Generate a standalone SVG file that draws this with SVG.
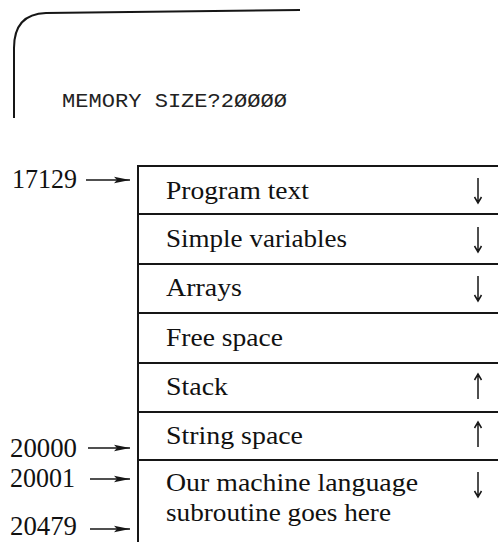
<svg xmlns="http://www.w3.org/2000/svg" width="498" height="542" viewBox="0 0 498 542">
<style>
.ln{stroke:#161616;stroke-width:2;fill:none}
.thin{stroke:#161616;stroke-width:1.5;fill:none}
.lbl{font-family:"Liberation Serif","Times New Roman",serif;font-size:26px;fill:#111}
.num{font-family:"Liberation Serif","Times New Roman",serif;font-size:26.5px;fill:#111}
.mono{font-family:"Liberation Mono","Courier New",monospace;font-size:20px;fill:#222}
</style>
<defs>
<marker id="ah" viewBox="0 0 16 8" refX="16" refY="4" markerWidth="16" markerHeight="8" markerUnits="userSpaceOnUse" orient="auto">
<path d="M0,0.8 L16,4 L0,7.2 L3,4 Z" fill="#161616"/>
</marker>
<path id="dn" d="M0,-12 L0,11 M-3.5,7 L0,13 L3.5,7" />
</defs>
<g id="screen">
<path class="ln" d="M14,118 L14,48 Q14,14 46,13 L300,10"/>
<text class="mono" x="62" y="107" textLength="225" lengthAdjust="spacingAndGlyphs">MEMORY SIZE?2ØØØØ</text>
</g>
<g id="memory-map">
<path class="ln" d="M138,542 L138,166 L498,166"/>
<line class="ln" x1="138" y1="214" x2="498" y2="214"/>
<line class="ln" x1="138" y1="264" x2="498" y2="264"/>
<line class="ln" x1="138" y1="313" x2="498" y2="313"/>
<line class="ln" x1="138" y1="363" x2="498" y2="363"/>
<line class="ln" x1="138" y1="412" x2="498" y2="412"/>
<line class="ln" x1="138" y1="460" x2="498" y2="460"/>
</g>
<g id="program-text">
<text class="lbl" x="166" y="199" textLength="143" lengthAdjust="spacingAndGlyphs">Program text</text>
<use href="#dn" class="thin" transform="translate(478,190)"/>
</g>
<g id="simple-variables">
<text class="lbl" x="166" y="247" textLength="181" lengthAdjust="spacingAndGlyphs">Simple variables</text>
<use href="#dn" class="thin" transform="translate(478,239)"/>
</g>
<g id="arrays">
<text class="lbl" x="166" y="296" textLength="76" lengthAdjust="spacingAndGlyphs">Arrays</text>
<use href="#dn" class="thin" transform="translate(478,288)"/>
</g>
<g id="free-space">
<text class="lbl" x="166" y="346" textLength="117" lengthAdjust="spacingAndGlyphs">Free space</text>
</g>
<g id="stack">
<text class="lbl" x="166" y="395" textLength="62" lengthAdjust="spacingAndGlyphs">Stack</text>
<use href="#dn" class="thin" transform="translate(478,387) rotate(180)"/>
</g>
<g id="string-space">
<text class="lbl" x="166" y="444" textLength="137" lengthAdjust="spacingAndGlyphs">String space</text>
<use href="#dn" class="thin" transform="translate(478,435) rotate(180)"/>
</g>
<g id="ml-subroutine">
<text class="lbl" x="166" y="491" textLength="252" lengthAdjust="spacingAndGlyphs">Our machine language</text>
<text class="lbl" x="166" y="521" textLength="225" lengthAdjust="spacingAndGlyphs">subroutine goes here</text>
<use href="#dn" class="thin" transform="translate(478,484)"/>
</g>
<g id="addresses">
<text class="num" x="12" y="188" textLength="65" lengthAdjust="spacingAndGlyphs">17129</text>
<text class="num" x="10" y="457" textLength="67" lengthAdjust="spacingAndGlyphs">20000</text>
<text class="num" x="10" y="487" textLength="65" lengthAdjust="spacingAndGlyphs">20001</text>
<text class="num" x="10" y="535" textLength="67" lengthAdjust="spacingAndGlyphs">20479</text>
</g>
<g id="connectors">
<line class="thin" x1="86" y1="180" x2="130" y2="180" marker-end="url(#ah)"/>
<line class="thin" x1="88" y1="448" x2="130" y2="448" marker-end="url(#ah)"/>
<line class="thin" x1="90" y1="479" x2="130" y2="479" marker-end="url(#ah)"/>
<line class="thin" x1="90" y1="529" x2="130" y2="529" marker-end="url(#ah)"/>
</g>
</svg>
